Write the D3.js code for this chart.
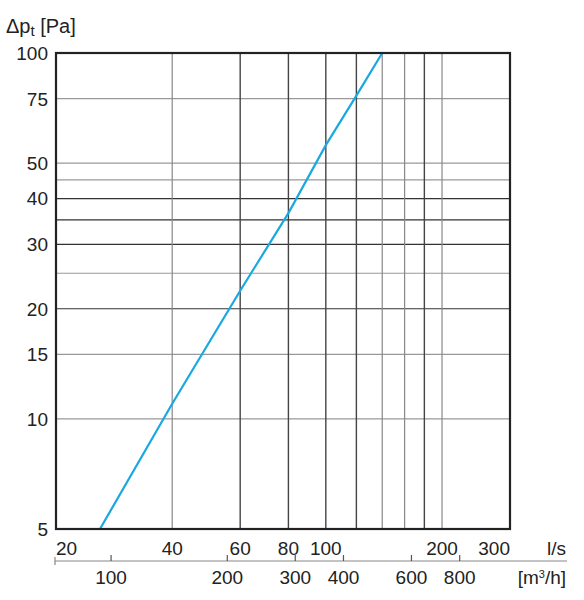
<!DOCTYPE html>
<meta charset="utf-8">
<head>
<title>Pressure drop chart</title>
<style>
  body { margin: 0; background: #fff; }
  text { font-family: "Liberation Sans Narrow", "Arial Narrow", "Liberation Sans", sans-serif; fill: #222; }
</style>
</head>
<body>
<div id="chart"></div>
<script src="https://d3js.org/d3.v7.min.js"></script>
<script>

// flow in l/s and pressure drop in Pa
var flow = [26, 40, 60, 80, 100, 120, 140];
var pressure = [5, 11, 22.4, 36.5, 56, 76.5, 100];

// grid and tick values
var yTicks = [5, 10, 15, 20, 30, 40, 50, 75, 100];
var yGridDark = [20, 30, 35, 40];
var yGridLight = [10, 15, 25, 45, 50, 75];
var xTicks = [20, 40, 60, 80, 100, 200, 300];
var xGridDark = [60, 80, 100, 120, 180];
var xGridLight = [40, 140, 160, 200];
var m3hTicks = [100, 200, 300, 400, 600, 800];

var width = 584, height = 600;
var pLeft = 56, pRight = 510, pTop = 53, pBottom = 529;

var svg = d3.select("#chart")
  .append("svg")
    .attr("width", width)
    .attr("height", height);

var x = d3.scaleLog()
  .domain([20, 300])
  .range([pLeft, pRight]);

var y = d3.scaleLog()
  .domain([5, 100])
  .range([pBottom, pTop]);

// horizontal grid
svg.selectAll(".hgl").data(yGridLight).enter().append("line")
  .attr("x1", pLeft).attr("x2", pRight)
  .attr("y1", function(d) { return y(d); })
  .attr("y2", function(d) { return y(d); })
  .attr("stroke", "#999").attr("stroke-width", 1.2);
svg.selectAll(".hgd").data(yGridDark).enter().append("line")
  .attr("x1", pLeft).attr("x2", pRight)
  .attr("y1", function(d) { return y(d); })
  .attr("y2", function(d) { return y(d); })
  .attr("stroke", "#333").attr("stroke-width", 1.2);

// vertical grid
svg.selectAll(".vgl").data(xGridLight).enter().append("line")
  .attr("y1", pTop).attr("y2", pBottom)
  .attr("x1", function(d) { return x(d); })
  .attr("x2", function(d) { return x(d); })
  .attr("stroke", "#888").attr("stroke-width", 1.2);
svg.selectAll(".vgd").data(xGridDark).enter().append("line")
  .attr("y1", pTop).attr("y2", pBottom)
  .attr("x1", function(d) { return x(d); })
  .attr("x2", function(d) { return x(d); })
  .attr("stroke", "#444").attr("stroke-width", 1.4);

// the curve
var pts = flow.map(function(q, i) { return [q, pressure[i]]; });
svg.append("path")
  .datum(pts)
  .attr("fill", "none")
  .attr("stroke", "#1aa8e0")
  .attr("stroke-width", 2.2)
  .attr("d", d3.line()
    .x(function(d) { return x(d[0]); })
    .y(function(d) { return y(d[1]); }));

// frame
svg.append("rect")
  .attr("x", pLeft).attr("y", pTop)
  .attr("width", pRight - pLeft).attr("height", pBottom - pTop)
  .attr("fill", "none")
  .attr("stroke", "#222")
  .attr("stroke-width", 2.2);

// y labels
svg.selectAll(".yl").data(yTicks).enter().append("text")
  .attr("x", pLeft - 8)
  .attr("y", function(d) { return y(d); })
  .attr("dy", "0.36em")
  .attr("text-anchor", "end")
  .style("font-size", "19px")
  .text(function(d) { return d; });

// y title
var title = svg.append("text")
  .attr("x", 6).attr("y", 33)
  .style("font-size", "20px");
title.append("tspan").text("\u0394p");
title.append("tspan").attr("dy", 3).style("font-size", "15px").text("t");
title.append("tspan").attr("dy", -3).text(" [Pa]");

// x labels (l/s)
svg.selectAll(".xl").data(xTicks).enter().append("text")
  .attr("x", function(d) { return x(d); })
  .attr("y", 555)
  .attr("text-anchor", function(d, i) {
    return i == 0 ? "start" : (i == xTicks.length - 1 ? "end" : "middle");
  })
  .style("font-size", "19px")
  .text(function(d) { return d; });

svg.append("text")
  .attr("x", 566).attr("y", 555)
  .attr("text-anchor", "end")
  .style("font-size", "19px")
  .text("l/s");

// secondary axis m3/h
var x2 = d3.scaleLog()
  .domain([20 * 3.6, 300 * 3.6])
  .range([pLeft, pRight]);

svg.append("line")
  .attr("x1", pLeft - 1).attr("x2", 567)
  .attr("y1", 561).attr("y2", 561)
  .attr("stroke", "#888").attr("stroke-width", 1.2);
svg.append("line")
  .attr("x1", pLeft - 1).attr("x2", pLeft - 1)
  .attr("y1", 557).attr("y2", 565)
  .attr("stroke", "#888").attr("stroke-width", 1.2);

svg.selectAll(".t2").data(m3hTicks).enter().append("line")
  .attr("x1", function(d) { return x2(d); })
  .attr("x2", function(d) { return x2(d); })
  .attr("y1", 555).attr("y2", 561)
  .attr("stroke", "#555").attr("stroke-width", 1.2);

svg.selectAll(".x2l").data(m3hTicks).enter().append("text")
  .attr("x", function(d) { return x2(d); })
  .attr("y", 584)
  .attr("text-anchor", "middle")
  .style("font-size", "19px")
  .text(function(d) { return d; });

var unit = svg.append("text")
  .attr("x", 566).attr("y", 584)
  .attr("text-anchor", "end")
  .style("font-size", "19px");
unit.append("tspan").text("[m");
unit.append("tspan").attr("dy", -6).style("font-size", "11px").text("3");
unit.append("tspan").attr("dy", 6).text("/h]");

</script>
</body>
